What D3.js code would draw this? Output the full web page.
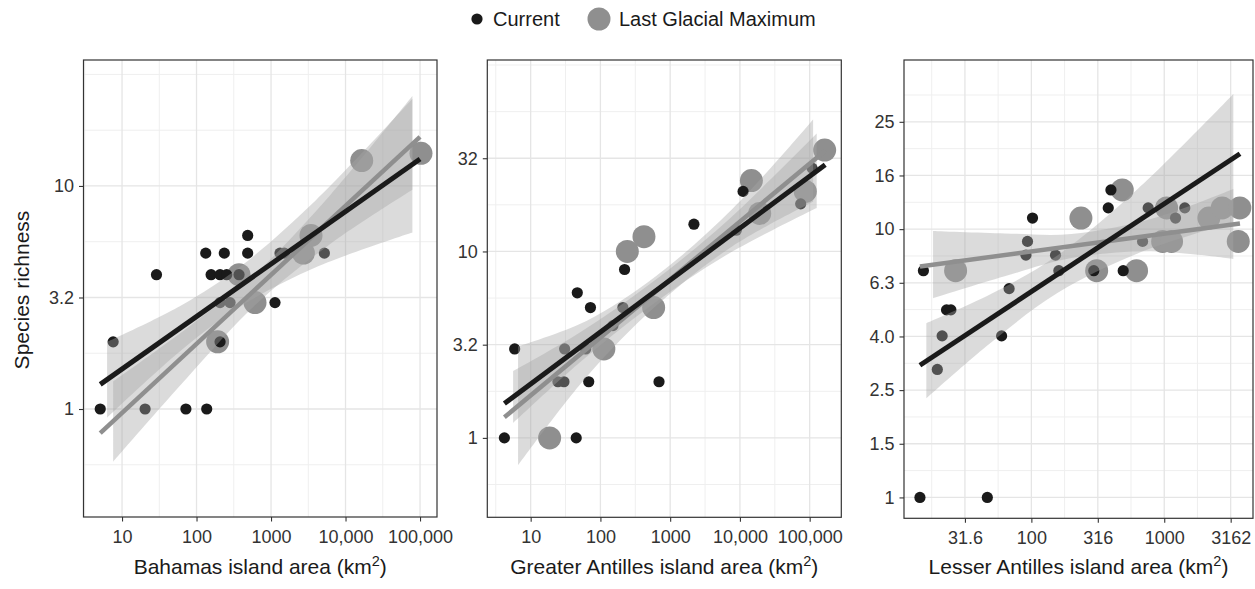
<!DOCTYPE html>
<html>
<head>
<meta charset="utf-8">
<script src="https://cdn.jsdelivr.net/npm/d3@7"></script>
<style>
  body { margin: 0; background: #fff; }
  svg { font-family: 'Liberation Sans', Arial, sans-serif; }
</style>
</head>
<body>
<svg id="chart" width="1255" height="589"></svg>
<script>
// Bahamas
const bahamasCurArea = [5.1, 7.6, 20.4, 29, 72, 137, 133, 236, 486, 486, 157, 207, 254, 372, 207, 207, 282, 1130, 1320, 1510, 5200];
const bahamasCurRich = [1, 2, 1, 4, 1, 1, 5, 5, 5, 6, 4, 4, 4, 4, 2, 3, 3, 3, 5, 5, 5];
const bahamasLgmArea = [192, 610, 372, 2720, 3440, 16500, 103000];
const bahamasLgmRich = [2, 3, 4, 5, 6, 13, 14];
const bahamasFitArea = [5.1, 100000];
const bahamasFitCur = [1.29, 13.2];
const bahamasFitLgm = [0.78, 16.6];
const bahamasBandCur = [[6.3, 0.914, 2.0], [63, 1.84, 2.92], [400, 2.90, 4.39], [4000, 4.32, 8.63], [79000, 6.18, 24.6]];
const bahamasBandLgm = [[7.6, 0.58, 1.33], [79, 1.41, 2.34], [630, 2.95, 4.07], [6300, 5.51, 9.14], [79000, 9.62, 25.3]];

// Greater Antilles
const greaterCurArea = [4.2, 45, 5.9, 30.7, 61.5, 24.6, 30, 68, 692, 46.6, 72, 210, 151, 222, 2190, 8870, 11100, 74300, 108000];
const greaterCurRich = [1, 1, 3, 3, 3, 2, 2, 2, 2, 6, 5, 5, 4, 8, 14, 13, 21, 18, 28];
const greaterLgmArea = [18.7, 112, 580, 243, 421, 14600, 19200, 86500, 164000];
const greaterLgmRich = [1, 3, 5, 10, 12, 24, 16, 21, 35];
const greaterFitArea = [4.2, 167000];
const greaterFitCur = [1.53, 29.2];
const greaterFitLgm = [1.29, 34.7];
const greaterBandCur = [[5.6, 1.20, 2.28], [50, 2.53, 3.66], [500, 5.04, 6.64], [6300, 9.53, 14.4], [126000, 17.1, 42.9]];
const greaterBandLgm = [[6.6, 0.711, 3.10], [63, 2.12, 4.24], [630, 5.11, 7.38], [7900, 10.7, 17.0], [112000, 18.5, 51.1]];

// Lesser Antilles
const lesserCurArea = [14.5, 46.6, 15.4, 23, 24.8, 21.3, 19.6, 59.7, 68, 102, 93.5, 91, 152, 161, 295, 379, 397, 491, 687, 757, 1216, 1428];
const lesserCurRich = [1, 1, 7, 5, 5, 4, 3, 4, 6, 11, 9, 8, 8, 7, 7, 12, 14, 7, 9, 12, 11, 12];
const lesserLgmArea = [26.9, 236, 483, 310, 619, 1042, 973, 1135, 2168, 2730, 3706, 3606];
const lesserLgmRich = [7, 11, 14, 7, 7, 12, 9, 9, 11, 12, 12, 9];
const lesserFitArea = [14.5, 3715];
const lesserFitCur = [3.11, 19.1];
const lesserFitLgm = [7.26, 10.5];
const lesserBandCur = [[16.2, 2.34, 4.46], [50, 3.79, 5.74], [158, 5.79, 8.0], [631, 8.11, 14.1], [3311, 10.6, 31.9]];
const lesserBandLgm = [[18.2, 5.53, 9.84], [63, 6.67, 9.64], [200, 7.80, 9.59], [794, 8.28, 10.9], [3311, 7.74, 14.1]];

// Axes
const decadeTicks = [10, 100, 1000, 10000, 100000];
const decadeLabels = ['10', '100', '1000', '10,000', '100,000'];
const lesserXTicks = [31.62, 100, 316.2, 1000, 3162];
const lesserXLabels = ['31.6', '100', '316', '1000', '3162'];
const bahamasYTicks = [1, 3.162, 10];
const bahamasYLabels = ['1', '3.2', '10'];
const greaterYTicks = [1, 3.162, 10, 31.62];
const greaterYLabels = ['1', '3.2', '10', '32'];
const lesserYTicks = [1, 1.585, 2.512, 3.981, 6.31, 10, 15.85, 25.12];
const lesserYLabels = ['1', '1.5', '2.5', '4.0', '6.3', '10', '16', '25'];

const seriesNames = ['Current', 'Last Glacial Maximum'];

const curColor = '#1a1a1a';
const lgmColor = '#8f8f8f';

const svg = d3.select('#chart');

function zip(xs, ys) {
  return xs.map((v, i) => [v, ys[i]]);
}

function createPanel(config) {
  const x = d3.scaleLog().domain(config.xDomain).range([config.left, config.right]);
  const y = d3.scaleLog().domain(config.yDomain).range([config.bottom, config.top]);

  const g = svg.append('g');
  const clipId = `clip-${config.id}`;
  g.append('defs').append('clipPath')
    .attr('id', clipId)
    .append('rect')
    .attr('x', config.left)
    .attr('y', config.top)
    .attr('width', config.right - config.left)
    .attr('height', config.bottom - config.top);

  // grid
  const grid = g.append('g').attr('clip-path', `url(#${clipId})`);
  config.xGridMinor.forEach((v) => {
    grid.append('line')
      .attr('x1', x(v)).attr('x2', x(v))
      .attr('y1', config.top).attr('y2', config.bottom)
      .attr('stroke', '#efefef').attr('stroke-width', 1);
  });
  config.yGridMinor.forEach((v) => {
    grid.append('line')
      .attr('y1', y(v)).attr('y2', y(v))
      .attr('x1', config.left).attr('x2', config.right)
      .attr('stroke', '#efefef').attr('stroke-width', 1);
  });
  config.xTicks.forEach((v) => {
    grid.append('line')
      .attr('x1', x(v)).attr('x2', x(v))
      .attr('y1', config.top).attr('y2', config.bottom)
      .attr('stroke', '#e5e5e5').attr('stroke-width', 1.3);
  });
  config.yTicks.forEach((v) => {
    grid.append('line')
      .attr('y1', y(v)).attr('y2', y(v))
      .attr('x1', config.left).attr('x2', config.right)
      .attr('stroke', '#e5e5e5').attr('stroke-width', 1.3);
  });

  const plot = g.append('g').attr('clip-path', `url(#${clipId})`);

  plot.append('g')
    .selectAll('circle')
    .data(zip(config.lgmArea, config.lgmRich))
    .enter()
    .append('circle')
    .attr('cx', d => x(d[0]))
    .attr('cy', d => y(d[1]))
    .attr('r', 11.5)
    .attr('fill', lgmColor);

  plot.append('g')
    .selectAll('circle')
    .data(zip(config.curArea, config.curRich))
    .enter()
    .append('circle')
    .attr('cx', d => x(d[0]))
    .attr('cy', d => y(d[1]))
    .attr('r', 5.6)
    .attr('fill', curColor);

  const band = d3.area()
    .curve(d3.curveCatmullRom)
    .x(d => x(d[0]))
    .y0(d => y(d[1]))
    .y1(d => y(d[2]));

  [config.bandCur, config.bandLgm].forEach((b) => {
    plot.append('path')
      .datum(b)
      .attr('d', band)
      .attr('fill', '#a6a6a6')
      .attr('fill-opacity', 0.4);
  });

  const line = d3.line()
    .x(d => x(d[0]))
    .y(d => y(d[1]));

  plot.append('path')
    .datum(zip(config.fitArea, config.fitLgm))
    .attr('d', line)
    .attr('fill', 'none')
    .attr('stroke', lgmColor)
    .attr('stroke-width', 4.5);

  plot.append('path')
    .datum(zip(config.fitArea, config.fitCur))
    .attr('d', line)
    .attr('fill', 'none')
    .attr('stroke', curColor)
    .attr('stroke-width', 5);

  // border
  g.append('rect')
    .attr('x', config.left)
    .attr('y', config.top)
    .attr('width', config.right - config.left)
    .attr('height', config.bottom - config.top)
    .attr('fill', 'none')
    .attr('stroke', '#333')
    .attr('stroke-width', 1.2);

  // axes
  const xAxis = d3.axisBottom(x)
    .tickValues(config.xTicks)
    .tickFormat((d, i) => config.xLabels[i])
    .tickSize(4.5)
    .tickPadding(8.5);
  const yAxis = d3.axisLeft(y)
    .tickValues(config.yTicks)
    .tickFormat((d, i) => config.yLabels[i])
    .tickSize(4.5)
    .tickPadding(5);

  const xg = g.append('g')
    .attr('transform', `translate(0, ${config.bottom})`)
    .call(xAxis);
  const yg = g.append('g')
    .attr('transform', `translate(${config.left}, 0)`)
    .call(yAxis);
  [xg, yg].forEach((a) => {
    a.select('.domain').remove();
    a.selectAll('.tick line').attr('stroke', '#333').attr('stroke-width', 1.1);
    a.selectAll('.tick text')
      .attr('fill', '#333')
      .style('font-size', '18px')
      .style('font-family', "'Liberation Sans', Arial, sans-serif");
  });

  const title = g.append('text')
    .attr('x', (config.left + config.right) / 2)
    .attr('y', 574)
    .attr('text-anchor', 'middle')
    .attr('fill', '#1a1a1a')
    .style('font-size', '21px');
  title.append('tspan').text(`${config.name} island area (km`);
  title.append('tspan').attr('dy', -8).style('font-size', '14.5px').text('2');
  title.append('tspan').attr('dy', 8).text(')');
}

createPanel({
  id: 'bahamas',
  name: 'Bahamas',
  left: 83.5, right: 437, top: 60, bottom: 517,
  xDomain: [3.04, 169000],
  yDomain: [0.328, 36.7],
  xTicks: decadeTicks, xLabels: decadeLabels,
  yTicks: bahamasYTicks, yLabels: bahamasYLabels,
  xGridMinor: [3.162, 31.62, 316.2, 3162, 31620],
  yGridMinor: [0.5623, 1.778, 5.623, 17.78, 31.62],
  curArea: bahamasCurArea, curRich: bahamasCurRich,
  lgmArea: bahamasLgmArea, lgmRich: bahamasLgmRich,
  fitArea: bahamasFitArea, fitCur: bahamasFitCur, fitLgm: bahamasFitLgm,
  bandCur: bahamasBandCur, bandLgm: bahamasBandLgm,
});

createPanel({
  id: 'greater',
  name: 'Greater Antilles',
  left: 487.3, right: 841.3, top: 60, bottom: 517.3,
  xDomain: [2.39, 284000],
  yDomain: [0.375, 106.4],
  xTicks: decadeTicks, xLabels: decadeLabels,
  yTicks: greaterYTicks, yLabels: greaterYLabels,
  xGridMinor: [3.162, 31.62, 316.2, 3162, 31620],
  yGridMinor: [0.5623, 1.778, 5.623, 17.78, 56.23, 100],
  curArea: greaterCurArea, curRich: greaterCurRich,
  lgmArea: greaterLgmArea, lgmRich: greaterLgmRich,
  fitArea: greaterFitArea, fitCur: greaterFitCur, fitLgm: greaterFitLgm,
  bandCur: greaterBandCur, bandLgm: greaterBandLgm,
});

createPanel({
  id: 'lesser',
  name: 'Lesser Antilles',
  left: 904, right: 1253, top: 60, bottom: 518.3,
  xDomain: [11.0, 4656],
  yDomain: [0.836, 42.7],
  xTicks: lesserXTicks, xLabels: lesserXLabels,
  yTicks: lesserYTicks, yLabels: lesserYLabels,
  xGridMinor: [17.78, 56.23, 177.8, 562.3, 1778],
  yGridMinor: [1.259, 1.995, 3.162, 5.012, 7.943, 12.59, 19.95, 31.62],
  curArea: lesserCurArea, curRich: lesserCurRich,
  lgmArea: lesserLgmArea, lgmRich: lesserLgmRich,
  fitArea: lesserFitArea, fitCur: lesserFitCur, fitLgm: lesserFitLgm,
  bandCur: lesserBandCur, bandLgm: lesserBandLgm,
});

// y axis title
svg.append('text')
  .attr('transform', 'translate(29, 290) rotate(-90)')
  .attr('text-anchor', 'middle')
  .attr('fill', '#1a1a1a')
  .style('font-size', '21px')
  .text('Species richness');

// legend
const legend = svg.append('g');
legend.append('circle').attr('cx', 477).attr('cy', 19).attr('r', 5.6).attr('fill', curColor);
legend.append('text').attr('x', 493).attr('y', 26).style('font-size', '20px').attr('fill', '#1a1a1a').text(seriesNames[0]);
legend.append('circle').attr('cx', 599).attr('cy', 19).attr('r', 11.5).attr('fill', lgmColor);
legend.append('text').attr('x', 619).attr('y', 26).style('font-size', '20px').attr('fill', '#1a1a1a').text(seriesNames[1]);
</script>
</body>
</html>
